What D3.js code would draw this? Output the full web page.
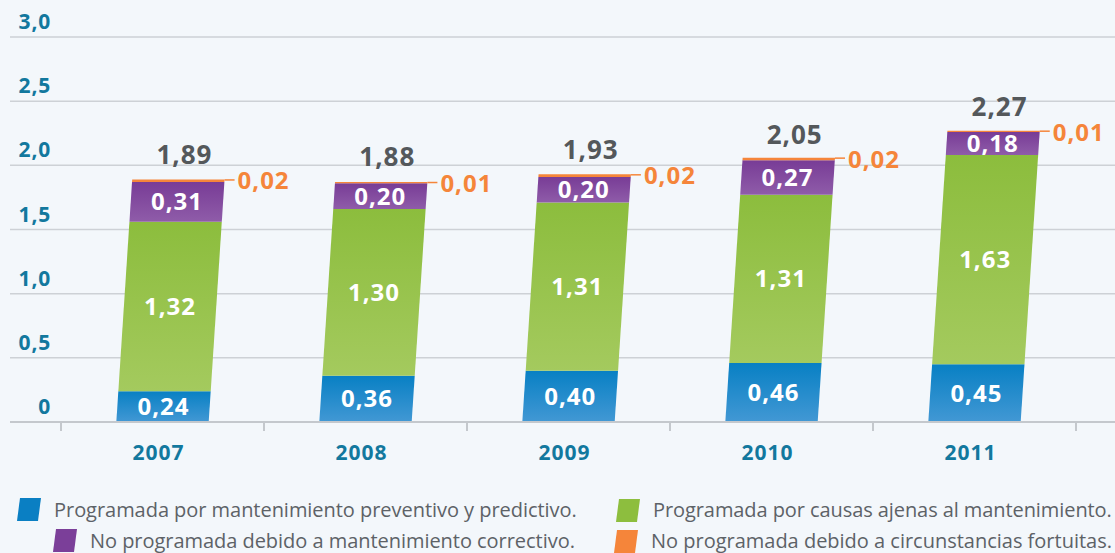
<!DOCTYPE html>
<html>
<head>
<meta charset="utf-8">
<script src="https://cdn.jsdelivr.net/npm/d3@7/dist/d3.min.js"></script>
<style>
  html, body { margin: 0; padding: 0; background: #f3f7fb; }
  svg { display: block; font-family: "Open Sans", "DejaVu Sans", sans-serif; }
</style>
</head>
<body>
<svg id="chart" width="1115" height="553"></svg>
<script>
const years = ["2007", "2008", "2009", "2010", "2011"];
const preventivo = [0.24, 0.36, 0.40, 0.46, 0.45];
const ajenas = [1.32, 1.30, 1.31, 1.31, 1.63];
const correctivo = [0.31, 0.20, 0.20, 0.27, 0.18];
const fortuitas = [0.02, 0.01, 0.02, 0.02, 0.01];
const totals = [1.89, 1.88, 1.93, 2.05, 2.27];
const yTicks = [0, 0.5, 1.0, 1.5, 2.0, 2.5, 3.0];
const seriesNames = [
  "Programada por mantenimiento preventivo y predictivo.",
  "Programada por causas ajenas al mantenimiento.",
  "No programada debido a mantenimiento correctivo.",
  "No programada debido a circunstancias fortuitas."
];

const fmt = v => v.toFixed(2).replace(".", ",");
const fmt1 = v => v === 0 ? "0" : v.toFixed(1).replace(".", ",");

const svg = d3.select("#chart");
const W = 1115, H = 553;
svg.append("rect").attr("width", W).attr("height", H).attr("fill", "#f3f7fb");

const y = d3.scaleLinear().domain([0, 3]).range([422, 37]);
const x = d3.scaleBand().domain(years).range([61, 1076]);
const barW = x.bandwidth() * 0.455;
const skew = 0.0655;

// gradients
const defs = svg.append("defs");
const grads = [
  { id: "gBlue", top: "#0880c4", bot: "#4298d4" },
  { id: "gGreen", top: "#8cbd3d", bot: "#a4ca5e" },
  { id: "gPurple", top: "#783c96", bot: "#8f5ca9" },
  { id: "gOrange", top: "#f5853a", bot: "#f5853a" }
];
grads.forEach(g => {
  const lg = defs.append("linearGradient").attr("id", g.id)
    .attr("x1", 0).attr("y1", 0).attr("x2", 0).attr("y2", 1);
  lg.append("stop").attr("offset", "0%").attr("stop-color", g.top);
  lg.append("stop").attr("offset", "100%").attr("stop-color", g.bot);
});
const fills = ["url(#gBlue)", "url(#gGreen)", "url(#gPurple)", "url(#gOrange)"];
const legendColors = ["#0a7fc3", "#8dbe3e", "#7b3f99", "#f5853a"];

function fit(t, target) {
  const len = t.node().getComputedTextLength();
  const n = t.text().length;
  t.attr("letter-spacing", ((target - len) / (n - 1)).toFixed(2));
}

// gridlines
svg.append("g").selectAll("line").data(yTicks.filter(t => t > 0)).join("line")
  .attr("x1", 10).attr("x2", W).attr("y1", d => y(d)).attr("y2", d => y(d))
  .attr("stroke", "#cdd1d6").attr("stroke-width", 1.5);

// y labels
svg.append("g").selectAll("text").data(yTicks).join("text")
  .attr("x", 51).attr("y", d => y(d) - 8)
  .attr("text-anchor", "end")
  .attr("fill", "#12789e").attr("font-weight", 700).attr("font-size", 21)
  .attr("letter-spacing", 0.8)
  .text(fmt1);

// bars
const xOff = v => (y(0) - y(v)) * skew;
const seriesArr = [preventivo, ajenas, correctivo, fortuitas];
years.forEach((yr, i) => {
  const cx = x(yr) + x.bandwidth() / 2;
  let base = 0;
  seriesArr.forEach((s, k) => {
    const v0 = base, v1 = base + s[i];
    base = v1;
    const y0 = y(v0), y1 = y(v1);
    const pts = [
      [cx - barW / 2 + xOff(v0), y0],
      [cx + barW / 2 + xOff(v0), y0],
      [cx + barW / 2 + xOff(v1), y1],
      [cx - barW / 2 + xOff(v1), y1]
    ];
    svg.append("path")
      .attr("d", "M" + pts.map(p => p.join(",")).join("L") + "Z")
      .attr("fill", fills[k]);
    if (k < 3) {
      const vm = (v0 + v1) / 2;
      svg.append("text")
        .attr("x", cx + xOff(vm)).attr("y", y(vm) + 8.5)
        .attr("text-anchor", "middle")
        .attr("fill", "#ffffff").attr("font-weight", 700).attr("font-size", 24)
        .attr("letter-spacing", 1)
        .text(fmt(s[i]));
    } else {
      const rx = cx + barW / 2 + xOff(v1);
      svg.append("line")
        .attr("x1", rx).attr("x2", rx + 10).attr("y1", y1 + 0.5).attr("y2", y1 + 0.5)
        .attr("stroke", "#f5853a").attr("stroke-width", 1.5);
      svg.append("text")
        .attr("x", rx + 13).attr("y", y1 + 10)
        .attr("fill", "#f5853a").attr("font-weight", 700).attr("font-size", 24)
        .attr("letter-spacing", 1)
        .text(fmt(s[i]));
    }
  });
  // total
  svg.append("text")
    .attr("x", cx + xOff(totals[i]) + 6).attr("y", y(totals[i]) - 15)
    .attr("text-anchor", "middle")
    .attr("fill", "#54585b").attr("font-weight", 700).attr("font-size", 26)
    .attr("letter-spacing", 1)
    .text(fmt(totals[i]));
});

// baseline axis
svg.append("line").attr("x1", 10).attr("x2", W).attr("y1", y(0)).attr("y2", y(0))
  .attr("stroke", "#c4c8cd").attr("stroke-width", 2);
const bounds = years.map(d => x(d)).concat([x.range()[1]]);
svg.append("g").selectAll("line").data(bounds).join("line")
  .attr("x1", d => d).attr("x2", d => d).attr("y1", y(0)).attr("y2", y(0) + 9)
  .attr("stroke", "#c4c8cd").attr("stroke-width", 2);
svg.append("g").selectAll("text").data(years).join("text")
  .attr("x", d => x(d) + x.bandwidth() / 2 - 4).attr("y", 460)
  .attr("text-anchor", "middle")
  .attr("fill", "#12789e").attr("font-weight", 700).attr("font-size", 21)
  .attr("letter-spacing", 1)
  .text(d => d);

// legend
const legendPos = [
  { sx: 17, sy: 498, tx: 54, ty: 517, tw: 523 },
  { sx: 616, sy: 499, tx: 653, ty: 517, tw: 459 },
  { sx: 53, sy: 529, tx: 90, ty: 548, tw: 485 },
  { sx: 614, sy: 530, tx: 651, ty: 548, tw: 461 }
];
legendPos.forEach((p, k) => {
  const w = 21, h = 23, sk = 3;
  svg.append("path")
    .attr("d", `M${p.sx + sk},${p.sy}L${p.sx + sk + w},${p.sy}L${p.sx + w},${p.sy + h}L${p.sx},${p.sy + h}Z`)
    .attr("fill", legendColors[k]);
  const t = svg.append("text")
    .attr("x", p.tx).attr("y", p.ty)
    .attr("fill", "#5d6267").attr("font-size", 20)
    .text(seriesNames[k]);
  fit(t, p.tw);
});
</script>
</body>
</html>
